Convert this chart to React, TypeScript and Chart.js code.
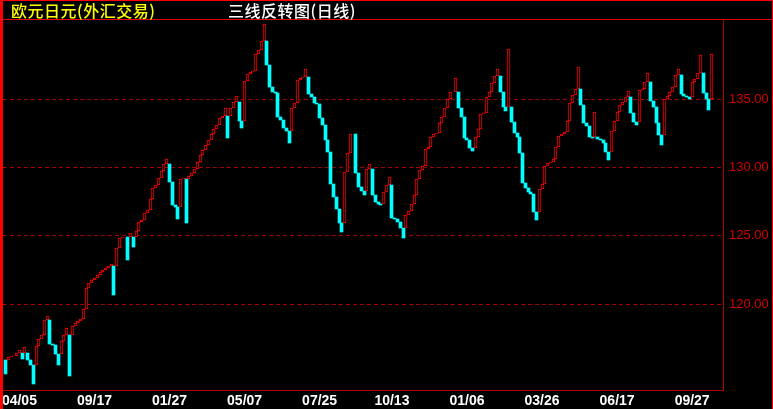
import React, { useEffect, useRef } from 'react';
import { Chart, registerables } from 'chart.js';

Chart.register(...registerables);

const TITLE_LEFT = '欧元日元(外汇交易)';
const TITLE_RIGHT = '三线反转图(日线)';

// open of the very first line
const firstOpen = 115.9;

// close of every three-line-break line, in order
const closes = [
  114.88, 116.12, 116.16, 116.19, 116.44, 116.63, 115.95, 116.85, 115.90, 115.51,
  114.17, 116.93, 117.42, 117.73, 118.83, 119.13, 117.07, 117.00, 116.34, 115.56,
  117.29, 117.73, 118.22, 114.73, 118.39, 118.63, 118.78, 118.91, 119.62, 121.15,
  121.52, 121.76, 121.91, 122.13, 122.35, 122.49, 122.64, 122.79, 122.93, 120.66,
  124.11, 124.84, 124.88, 124.91, 123.23, 125.21, 124.20, 125.35,
  126.01, 126.16, 126.67, 126.89, 127.70, 128.50,
  128.72, 129.23, 129.75, 130.26, 130.63, 128.96, 127.26, 127.11, 126.25, 129.14,
  129.21, 125.96, 129.38, 129.58, 129.87, 130.43, 130.92, 131.29, 131.65, 132.02,
  132.46, 132.82, 133.12, 133.63, 133.77, 134.36, 132.16, 134.39, 134.80, 135.24,
  133.41, 132.87, 136.34, 136.85, 136.98, 137.07, 138.32, 138.61, 139.27, 140.49,
  137.51, 135.92, 135.56, 135.48, 133.72, 133.48, 132.87, 132.70, 131.77, 134.36,
  134.73, 136.41, 136.58, 136.66, 137.22, 135.37, 135.19, 134.71, 134.63, 133.65,
  133.12, 132.02, 131.16, 128.79, 127.82, 126.94, 125.92, 125.30, 129.70, 131.04,
  132.42, 132.46, 129.58, 128.60, 128.30, 127.99, 129.87, 130.24, 127.99, 127.50,
  127.33, 127.23, 128.23, 128.72, 129.29, 126.28, 126.21, 125.99, 125.55, 124.82,
  126.52, 126.82, 127.33, 127.99, 129.14, 129.82, 130.11, 131.34, 131.53, 132.21,
  132.44, 132.51, 133.26, 133.72, 134.34, 135.00, 135.51, 135.53, 136.54, 134.34,
  133.68, 132.14, 132.02, 131.41, 131.23, 132.21, 132.80, 133.92, 134.02, 135.15,
  135.56, 136.17, 136.71, 137.20, 135.56, 134.46, 134.17, 138.69, 133.36, 132.51,
  132.21, 131.04, 128.85, 128.48, 128.23, 128.06, 126.77, 126.16, 128.41, 128.79,
  130.11, 130.31, 130.43, 130.60, 131.53, 132.31, 132.44, 132.63, 133.43, 134.75,
  135.32, 135.73, 137.34, 134.58, 133.24, 133.07, 132.26, 132.19, 134.07, 132.09,
  132.02, 131.78, 131.16, 130.55, 132.66, 133.43, 134.05, 134.58, 134.82, 135.15,
  135.59, 133.97, 133.31, 133.14, 135.68, 135.75, 136.25, 136.90, 134.90, 134.46,
  133.29, 132.39, 131.65, 135.00, 135.26, 135.51, 135.88, 136.78, 137.20, 135.37,
  135.26, 135.19, 135.02, 136.25, 136.47, 136.90, 138.25, 135.48, 135.00, 134.22,
  138.32,
];

const xTickIndex = [5, 32, 59, 86, 113, 139, 166, 193, 220, 247];
const xTickLabels = ['04/05', '09/17', '01/27', '05/07', '07/25', '10/13', '01/06', '03/26', '06/17', '09/27'];
const yTicks = [120, 125, 130, 135];

const Y_MIN = 113.63;
const Y_MAX = 140.88;
const X_MIN = -0.9;
const X_MAX = 258.1;

function buildLines() {
  const out: { x: number; y: [number, number] }[] = [];
  let prevOpen = firstOpen;
  let prevClose = closes[0];
  out.push({ x: 0, y: [firstOpen, closes[0]] });
  for (let i = 1; i < closes.length; i++) {
    const c = closes[i];
    const prevUp = prevClose > prevOpen;
    const cont = (prevUp && c > prevClose) || (!prevUp && c < prevClose);
    const o = cont ? prevClose : prevOpen;
    out.push({ x: i, y: [o, c] });
    prevOpen = o;
    prevClose = c;
  }
  return out;
}

const isUp = (ctx: any) => {
  const r = ctx && ctx.raw;
  if (!r || !r.y) return true;
  return r.y[1] > r.y[0];
};

export default function App() {
  const ref = useRef<HTMLCanvasElement>(null);

  useEffect(() => {
    document.body.style.margin = '0';
    document.body.style.background = '#000';
    const lines = buildLines();

    const bg = {
      id: 'bg',
      beforeDraw(chart: any) {
        const c = chart.ctx;
        c.save();
        c.fillStyle = '#000';
        c.fillRect(0, 0, chart.width, chart.height);
        c.restore();
      },
      afterDraw(chart: any) {
        const c = chart.ctx;
        const a = chart.chartArea;
        c.save();
        c.fillStyle = '#ff0000';
        c.fillRect(0, 0, 3, chart.height);
        c.fillRect(0, 0, chart.width, 1);
        c.fillRect(chart.width - 1, 0, 1, chart.height);
        c.fillStyle = '#e00000';
        c.fillRect(3, 19, chart.width - 3, 1);
        c.fillStyle = '#b40000';
        c.fillRect(3, Math.round(a.bottom) - 1, Math.round(a.right) - 3, 1);
        c.fillRect(Math.round(a.right), 19, 1, Math.round(a.bottom) - 19);
        c.restore();
      },
    };

    const snap = {
      id: 'snap',
      beforeDatasetsDraw(chart: any) {
        chart.getSortedVisibleDatasetMetas().forEach((meta: any) => {
          meta.data.forEach((el: any) => {
            el.x = Math.floor(el.x) + 0.5;
            el.y = Math.round(el.y);
            el.base = Math.round(el.base);
          });
        });
      },
    };

    const chart = new Chart(ref.current as HTMLCanvasElement, {
      type: 'bar',
      data: {
        datasets: [
          {
            data: lines as any,
            barThickness: 3,
            borderSkipped: false,
            backgroundColor: (ctx: any) => (isUp(ctx) ? '#000000' : '#00ffff'),
            borderColor: (ctx: any) => (isUp(ctx) ? '#ff0000' : '#00ffff'),
            borderWidth: (ctx: any) => (isUp(ctx) ? 1 : 0),
          } as any,
        ],
      },
      options: {
        animation: false,
        responsive: false,
        devicePixelRatio: 1,
        layout: { padding: { top: 19, left: 3, right: 0, bottom: 0 } },
        plugins: { legend: { display: false }, tooltip: { enabled: false } },
        scales: {
          x: {
            type: 'linear',
            offset: false,
            min: X_MIN,
            max: X_MAX,
            grid: { display: false, drawTicks: false },
            border: { display: false },
            afterBuildTicks: (scale: any) => {
              scale.ticks = xTickIndex.map((v) => ({ value: v }));
            },
            afterFit: (scale: any) => {
              scale.height = 18;
              scale.paddingLeft = 0;
              scale.paddingRight = 0;
            },
            ticks: {
              autoSkip: false,
              maxRotation: 0,
              minRotation: 0,
              padding: 2,
              color: '#ffffff',
              font: { family: 'Liberation Sans', size: 14, weight: 'bold' },
              callback: (v: any) => {
                const k = xTickIndex.indexOf(Number(v));
                return k >= 0 ? xTickLabels[k] : '';
              },
            },
          },
          y: {
            type: 'linear',
            position: 'right',
            min: Y_MIN,
            max: Y_MAX,
            grid: { color: '#a00000', lineWidth: 1, drawTicks: false },
            border: { display: false, dash: [4, 3] },
            afterBuildTicks: (scale: any) => {
              scale.ticks = yTicks.map((v) => ({ value: v }));
            },
            afterFit: (scale: any) => {
              scale.width = 50;
              scale.paddingTop = 0;
              scale.paddingBottom = 0;
            },
            ticks: {
              padding: 6,
              color: '#d40000',
              font: { family: '"Liberation Sans Narrow", "Liberation Sans"', size: 13 },
              callback: (v: any) => Number(v).toFixed(2),
            },
          },
        },
      },
      plugins: [bg, snap],
    } as any);

    return () => chart.destroy();
  }, []);

  const titleFont = '"Noto Sans CJK SC", "Noto Sans CJK JP", sans-serif';
  return (
    <div style={{ position: 'relative', width: 773, height: 409, background: '#000', overflow: 'hidden' }}>
      <canvas ref={ref} width={773} height={409} style={{ display: 'block', width: 773, height: 409 }} />
      <div
        style={{
          position: 'absolute', left: 11, top: 2, color: '#ffff00', fontFamily: titleFont,
          fontSize: 16, fontWeight: 500, lineHeight: '16px', letterSpacing: 0.5, whiteSpace: 'nowrap',
        }}
      >
        {TITLE_LEFT}
      </div>
      <div
        style={{
          position: 'absolute', left: 228, top: 2, color: '#ffffff', fontFamily: titleFont,
          fontSize: 16, fontWeight: 500, lineHeight: '16px', letterSpacing: 0.5, whiteSpace: 'nowrap',
        }}
      >
        {TITLE_RIGHT}
      </div>
    </div>
  );
}
